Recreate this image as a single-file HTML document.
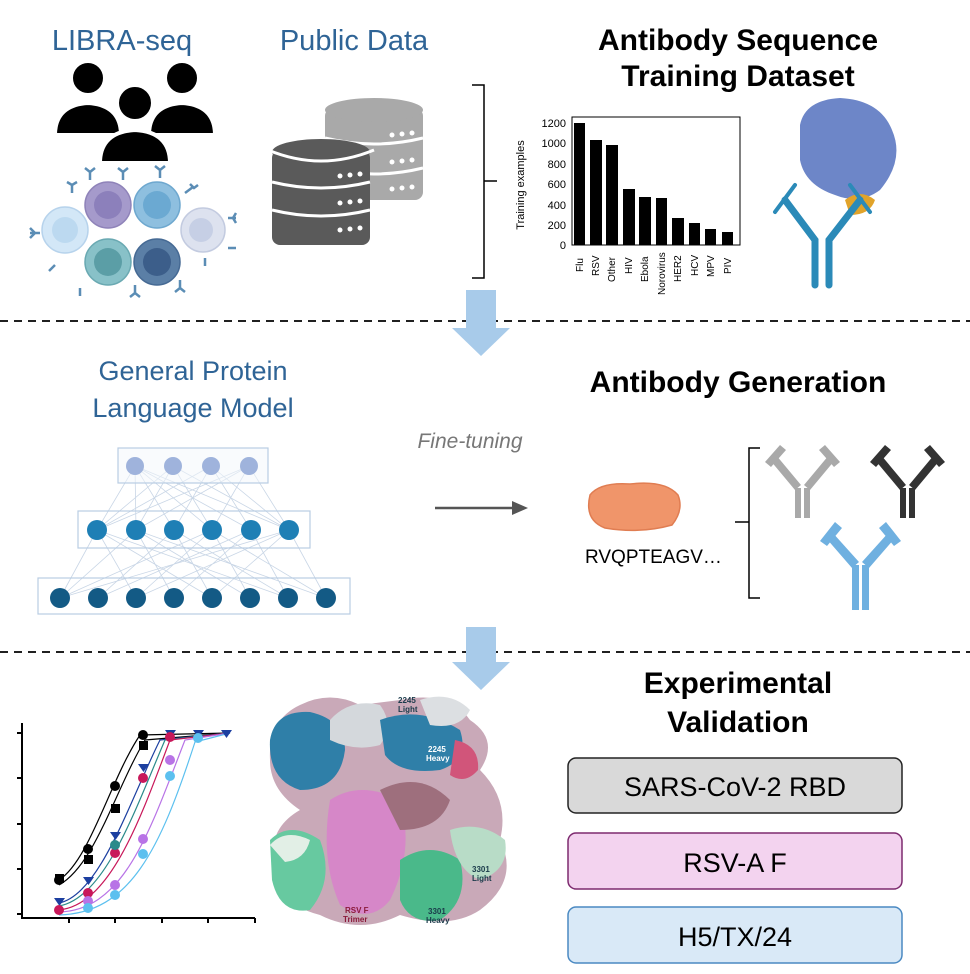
<!DOCTYPE html><html><head><style>
body{margin:0;background:#fff;}
svg{display:block;font-family:"Liberation Sans",Arial,sans-serif;}
</style></head><body>
<svg width="970" height="974" viewBox="0 0 970 974" xmlns="http://www.w3.org/2000/svg">
<rect width="970" height="974" fill="#fff"/>
<!-- Top titles -->
<text x="122" y="50" font-size="29" fill="#2f6496" text-anchor="middle">LIBRA-seq</text>
<text x="354" y="50" font-size="29" fill="#2f6496" text-anchor="middle">Public Data</text>
<text x="738" y="50" font-size="30" font-weight="bold" text-anchor="middle">Antibody Sequence</text>
<text x="738" y="86" font-size="30" font-weight="bold" text-anchor="middle">Training Dataset</text>
<!-- people -->
<g fill="#000" stroke="#fff" stroke-width="4">
<path d="M55 135 Q55 105 88 103 Q121 105 121 135 Z"/><circle cx="88" cy="78" r="17"/>
<path d="M149 135 Q149 105 182 103 Q215 105 215 135 Z"/><circle cx="182" cy="78" r="17"/>
<path d="M100 163 Q100 132 135 130 Q170 132 170 163 Z"/><circle cx="135" cy="103" r="18"/>
</g>
<!-- cells -->
<g stroke-width="1.5">
<circle cx="65" cy="230" r="23" fill="#d3e7f7" stroke="#b7d3ec"/><circle cx="65" cy="230" r="13" fill="#bcd9f0"/>
<circle cx="203" cy="230" r="22" fill="#dde2ef" stroke="#c3cbe0"/><circle cx="201" cy="230" r="12" fill="#c6cfe5"/>
<circle cx="108" cy="205" r="23" fill="#a59acb" stroke="#8f83b9"/><circle cx="108" cy="205" r="14" fill="#8c80bb"/>
<circle cx="157" cy="205" r="23" fill="#8ebfdf" stroke="#6ea8cf"/><circle cx="157" cy="205" r="14" fill="#6ba9d2"/>
<circle cx="108" cy="262" r="23" fill="#88c1c8" stroke="#6aa9b2"/><circle cx="108" cy="262" r="14" fill="#5b9ea6"/>
<circle cx="157" cy="262" r="23" fill="#5b7fa6" stroke="#466a94"/><circle cx="157" cy="262" r="14" fill="#3c5e8a"/>
</g>
<g stroke="#5b8db5" stroke-width="2.5" fill="none">
<path d="M30 233 h10 M30 228 l5 5 l-5 5"/><path d="M72 193 v-8 M67 182 l5 3 l5-3"/>
<path d="M90 180 v-8 M85 168 l5 4 l5-4"/><path d="M123 180 v-8 M118 168 l5 4 l5-4"/>
<path d="M160 178 v-8 M155 166 l5 4 l5-4"/><path d="M185 193 l8-6 M190 184 l4 4 l4-3"/>
<path d="M228 218 h8 M236 213 l-3 5 l3 5"/><path d="M228 248 h8"/><path d="M80 288 v8"/><path d="M135 285 v8 M130 297 l5-4 l5 4"/>
<path d="M180 280 v8 M175 292 l5-4 l5 4"/><path d="M55 265 l-6 6"/><path d="M205 258 v8"/>
</g>
<!-- databases -->
<g fill="#a9a9a9">
<rect x="325" y="108" width="98" height="92" rx="8"/><ellipse cx="374" cy="110" rx="49" ry="12"/>
</g>
<g stroke="#fff" stroke-width="3" fill="none"><path d="M325 138 Q374 150 423 138 M325 168 Q374 180 423 168"/></g>
<g fill="#5a5a5a">
<rect x="272" y="150" width="98" height="95" rx="8"/><ellipse cx="321" cy="152" rx="49" ry="13"/>
</g>
<ellipse cx="321" cy="152" rx="49" ry="13" fill="none" stroke="#fff" stroke-width="2" transform="translate(0,3)" opacity="0"/>
<g stroke="#fff" stroke-width="3" fill="none"><path d="M272 182 Q321 194 370 182 M272 210 Q321 222 370 210"/><path d="M268 150 Q321 172 374 150"/></g>
<g fill="#fff"><circle cx="340" cy="176" r="2.5"/><circle cx="350" cy="175" r="2.5"/><circle cx="360" cy="174" r="2.5"/>
<circle cx="340" cy="203" r="2.5"/><circle cx="350" cy="202" r="2.5"/><circle cx="360" cy="201" r="2.5"/>
<circle cx="340" cy="230" r="2.5"/><circle cx="350" cy="229" r="2.5"/><circle cx="360" cy="228" r="2.5"/>
<circle cx="392" cy="135" r="2.5"/><circle cx="402" cy="134" r="2.5"/><circle cx="412" cy="133" r="2.5"/>
<circle cx="392" cy="162" r="2.5"/><circle cx="402" cy="161" r="2.5"/><circle cx="412" cy="160" r="2.5"/>
<circle cx="392" cy="189" r="2.5"/><circle cx="402" cy="188" r="2.5"/><circle cx="412" cy="187" r="2.5"/></g>
<!-- bracket -->
<path d="M472 85 H484 V278 H472 M484 181 H497" stroke="#000" stroke-width="1.5" fill="none"/>
<!-- bar chart -->
<g font-size="11" fill="#000">
<rect x="572" y="117" width="168" height="128" fill="none" stroke="#000" stroke-width="1"/>
<g text-anchor="end">
<text x="566" y="127">1200</text><text x="566" y="147">1000</text><text x="566" y="168">800</text><text x="566" y="188">600</text><text x="566" y="209">400</text><text x="566" y="229">200</text><text x="566" y="249">0</text></g>
<text transform="translate(524,185) rotate(-90)" text-anchor="middle" font-size="11">Training examples</text>
<rect x="574" y="123" width="11" height="122"/><rect x="590" y="140" width="12" height="105"/><rect x="606" y="145" width="12" height="100"/>
<rect x="623" y="189" width="12" height="56"/><rect x="639" y="197" width="12" height="48"/><rect x="656" y="198" width="11" height="47"/>
<rect x="672" y="218" width="12" height="27"/><rect x="689" y="223" width="11" height="22"/><rect x="705" y="229" width="11" height="16"/><rect x="722" y="232" width="11" height="13"/>
<g font-size="10">
<text transform="translate(583,272) rotate(-90)">Flu</text><text transform="translate(599,276) rotate(-90)">RSV</text>
<text transform="translate(615,282) rotate(-90)">Other</text><text transform="translate(632,274) rotate(-90)">HIV</text>
<text transform="translate(648,282) rotate(-90)">Ebola</text><text transform="translate(665,295) rotate(-90)">Norovirus</text>
<text transform="translate(681,282) rotate(-90)">HER2</text><text transform="translate(698,276) rotate(-90)">HCV</text>
<text transform="translate(714,277) rotate(-90)">MPV</text><text transform="translate(731,274) rotate(-90)">PIV</text></g>
</g>
<!-- antigen + antibody -->
<path d="M800 125 Q805 100 840 98 Q880 100 892 130 Q905 160 880 190 Q860 205 835 195 Q805 185 800 160 Z" fill="#6d86c8"/>
<path d="M845 200 Q860 188 875 200 Q870 215 850 215 Z" fill="#e1a32a"/>
<g stroke="#2b8ab8" stroke-width="7" fill="none" stroke-linecap="round">
<path d="M815 285 V240 L785 200"/><path d="M829 285 V240 L860 200"/></g>
<g stroke="#2b8ab8" stroke-width="4" fill="none" stroke-linecap="round"><path d="M775 212 L795 185"/><path d="M870 212 L850 185"/></g>
<!-- dashed lines -->
<line x1="0" y1="321" x2="970" y2="321" stroke="#000" stroke-width="1.8" stroke-dasharray="8,6"/>
<line x1="0" y1="652" x2="970" y2="652" stroke="#000" stroke-width="1.8" stroke-dasharray="8,6"/>
<!-- arrows down -->
<path d="M466 290 H496 V328 H510 L481 356 L452 328 H466 Z" fill="#a8cbea"/>
<path d="M466 627 H496 V662 H510 L481 690 L452 662 H466 Z" fill="#a8cbea"/>
<!-- section 2 -->
<text x="193" y="380" font-size="27" fill="#2f6496" text-anchor="middle">General Protein</text>
<text x="193" y="417" font-size="27" fill="#2f6496" text-anchor="middle">Language Model</text>
<text x="738" y="392" font-size="30" font-weight="bold" text-anchor="middle">Antibody Generation</text>
<g stroke="#c9d6e6" stroke-width="0.8">
<path d="M135 466 L97 530 M135 466 L136 530 M135 466 L174 530 M135 466 L212 530 M135 466 L251 530 M135 466 L289 530 M173 466 L97 530 M173 466 L136 530 M173 466 L212 530 M173 466 L289 530 M211 466 L97 530 M211 466 L174 530 M211 466 L251 530 M211 466 L289 530 M249 466 L97 530 M249 466 L136 530 M249 466 L212 530 M249 466 L289 530"/>
<path d="M97 530 L60 598 M97 530 L136 598 M97 530 L212 598 M97 530 L288 598 M136 530 L60 598 M136 530 L174 598 M136 530 L250 598 M136 530 L326 598 M174 530 L98 598 M174 530 L212 598 M174 530 L288 598 M212 530 L60 598 M212 530 L136 598 M212 530 L250 598 M212 530 L326 598 M251 530 L98 598 M251 530 L174 598 M251 530 L288 598 M289 530 L60 598 M289 530 L136 598 M289 530 L212 598 M289 530 L326 598"/>
</g>
<g fill="none" stroke="#b9cde3" stroke-width="1.2">
<rect x="118" y="448" width="150" height="35" fill="#f3f7fc" fill-opacity="0.5"/><rect x="78" y="511" width="232" height="37" fill-opacity="0"/><rect x="38" y="578" width="312" height="36"/></g>
<g fill="#9fb3dc"><circle cx="135" cy="466" r="9"/><circle cx="173" cy="466" r="9"/><circle cx="211" cy="466" r="9"/><circle cx="249" cy="466" r="9"/></g>
<g fill="#1e7fb5"><circle cx="97" cy="530" r="10"/><circle cx="136" cy="530" r="10"/><circle cx="174" cy="530" r="10"/><circle cx="212" cy="530" r="10"/><circle cx="251" cy="530" r="10"/><circle cx="289" cy="530" r="10"/></g>
<g fill="#135a85"><circle cx="60" cy="598" r="10"/><circle cx="98" cy="598" r="10"/><circle cx="136" cy="598" r="10"/><circle cx="174" cy="598" r="10"/><circle cx="212" cy="598" r="10"/><circle cx="250" cy="598" r="10"/><circle cx="288" cy="598" r="10"/><circle cx="326" cy="598" r="10"/></g>
<text x="470" y="448" font-size="21" font-style="italic" fill="#777" text-anchor="middle">Fine-tuning</text>
<path d="M435 508 H512" stroke="#555" stroke-width="2.5"/><path d="M512 501 L528 508 L512 515 Z" fill="#555"/>
<path d="M590 495 Q600 482 630 484 Q665 480 678 495 Q684 510 672 525 Q640 534 605 528 Q584 520 590 495 Z" fill="#f0956a" stroke="#e07d52" stroke-width="1.5"/>
<text x="585" y="563" font-size="19" fill="#000">RVQPTEAGV…</text>
<path d="M760 448 H749 V598 H760 M749 522 H735" stroke="#000" stroke-width="1.5" fill="none"/>
<!-- antibodies generated -->
<g fill="#a9a9a9"><rect x="795" y="488" width="6" height="30"/><rect x="804" y="488" width="6" height="30"/><path d="M795 490 L770 460 L776 455 L801 485 Z M810 490 L835 460 L829 455 L804 485 Z"/><path d="M765 462 L780 445 L786 450 L771 467 Z M840 462 L825 445 L819 450 L834 467 Z"/></g>
<g fill="#333"><rect x="900" y="488" width="6" height="30"/><rect x="909" y="488" width="6" height="30"/><path d="M900 490 L875 460 L881 455 L906 485 Z M915 490 L940 460 L934 455 L909 485 Z"/><path d="M870 462 L885 445 L891 450 L876 467 Z M945 462 L930 445 L924 450 L939 467 Z"/></g>
<g fill="#6fb0e0"><rect x="852" y="565" width="7" height="45"/><rect x="862" y="565" width="7" height="45"/><path d="M852 568 L826 538 L832 532 L859 562 Z M869 568 L895 538 L889 532 L862 562 Z"/><path d="M820 541 L835 522 L842 528 L827 546 Z M901 541 L886 522 L879 528 L894 546 Z"/></g>
<!-- section 3 -->
<text x="738" y="693" font-size="30" font-weight="bold" text-anchor="middle">Experimental</text>
<text x="738" y="732" font-size="30" font-weight="bold" text-anchor="middle">Validation</text>
<rect x="568" y="758" width="334" height="55" rx="8" fill="#d9d9d9" stroke="#222" stroke-width="1.5"/>
<text x="735" y="796" font-size="27" text-anchor="middle">SARS-CoV-2 RBD</text>
<rect x="568" y="833" width="334" height="56" rx="8" fill="#f3d3ef" stroke="#7d2a6f" stroke-width="1.5"/>
<text x="735" y="872" font-size="27" text-anchor="middle">RSV-A F</text>
<rect x="568" y="907" width="334" height="56" rx="8" fill="#d9e9f7" stroke="#4a89c2" stroke-width="1.5"/>
<text x="735" y="946" font-size="27" text-anchor="middle">H5/TX/24</text>
<!-- curve chart -->
<g stroke="#000" stroke-width="2" fill="none"><path d="M22 723 V918 H255"/>
<path d="M17 733 H22 M17 778 H22 M17 824 H22 M17 869 H22 M17 914 H22 M69 918 V923 M115 918 V923 M162 918 V923 M208 918 V923 M255 918 V923"/></g>
<g fill="none" stroke-width="1.2">
<path d="M59 880 C90 860 110 780 140 735 L230 733" stroke="#000"/>
<path d="M59 885 C95 865 115 790 145 740 L230 733" stroke="#000"/>
<path d="M59 903 C100 895 130 800 160 740 L230 733" stroke="#1c3fa0"/>
<path d="M59 906 C105 898 135 810 165 740 L230 733" stroke="#2a8a8a"/>
<path d="M59 910 C110 905 140 820 170 740 L230 733" stroke="#c8185a"/>
<path d="M59 912 C125 910 150 830 185 740 L230 733" stroke="#b873e6"/>
<path d="M59 915 C130 913 160 850 195 742 L230 733" stroke="#5cc0ef"/>
</g>
<g fill="#000"><circle cx="59" cy="880" r="5"/><circle cx="88" cy="849" r="5"/><circle cx="115" cy="786" r="5"/><circle cx="143" cy="735" r="5"/>
<rect x="55" y="874" width="9" height="9"/><rect x="84" y="855" width="9" height="9"/><rect x="111" y="804" width="9" height="9"/><rect x="139" y="741" width="9" height="9"/></g>
<g fill="#1c3fa0"><path d="M54 898 h11 l-5.5 8 z M83 877 h11 l-5.5 8 z M110 832 h11 l-5.5 8 z M138 764 h11 l-5.5 8 z M165 730 h11 l-5.5 8 z M193 730 h11 l-5.5 8 z M221 730 h11 l-5.5 8 z"/></g>
<g fill="#c8185a"><circle cx="59" cy="910" r="5"/><circle cx="88" cy="893" r="5"/><circle cx="115" cy="853" r="5"/><circle cx="143" cy="778" r="5"/><circle cx="170" cy="737" r="5"/></g>
<g fill="#b873e6"><circle cx="88" cy="901" r="5"/><circle cx="115" cy="885" r="5"/><circle cx="143" cy="839" r="5"/><circle cx="170" cy="760" r="5"/></g>
<g fill="#5cc0ef"><circle cx="88" cy="908" r="5"/><circle cx="115" cy="895" r="5"/><circle cx="143" cy="854" r="5"/><circle cx="170" cy="776" r="5"/><circle cx="198" cy="738" r="5"/></g>
<circle cx="115" cy="845" r="5" fill="#2a8a8a"/>
<!-- protein structure -->
<g>
<path d="M300 705 Q330 690 360 705 L400 700 Q450 690 470 720 Q500 740 480 770 Q510 800 500 840 Q520 880 480 910 Q450 930 400 915 Q360 935 320 915 Q280 905 275 870 Q265 830 300 810 Q270 790 270 760 Q268 720 300 705 Z" fill="#c9a9b8"/>
<path d="M270 740 Q275 710 310 712 Q345 720 345 750 Q340 790 300 790 Q268 780 270 740 Z" fill="#2f7fa8"/>
<path d="M330 720 Q350 698 380 705 Q395 725 380 745 Q355 752 330 740 Z" fill="#d4d8dc"/>
<path d="M380 720 Q420 705 460 730 Q470 760 440 770 Q400 775 385 755 Z" fill="#2f7fa8"/>
<path d="M455 740 Q480 745 478 770 Q465 785 450 775 Z" fill="#d1557a"/>
<path d="M420 700 Q450 690 470 710 Q460 730 430 725 Z" fill="#dcdfe2"/>
<path d="M330 800 Q360 780 400 800 Q415 850 390 900 Q370 925 340 905 Q320 860 330 800 Z" fill="#d687c8"/>
<path d="M270 840 Q290 820 320 840 Q335 880 310 910 Q280 915 272 880 Z" fill="#67c9a0"/>
<path d="M270 845 Q285 828 310 840 Q305 860 285 862 Z" fill="#e2efe6"/>
<path d="M400 860 Q430 840 460 860 Q470 900 440 920 Q410 925 400 900 Z" fill="#4ab98a"/>
<path d="M450 830 Q480 820 505 840 Q510 870 480 880 Q455 870 450 830 Z" fill="#b8dcc7"/>
<path d="M380 790 Q420 770 450 800 Q440 830 400 830 Z" fill="#9e6f7d"/>
</g>
<g font-size="8" font-weight="bold" fill="#1a3a4a">
<text x="398" y="703">2245</text><text x="398" y="712">Light</text>
<text x="428" y="752" fill="#fff">2245</text><text x="426" y="761" fill="#fff">Heavy</text>
<text x="472" y="872">3301</text><text x="472" y="881">Light</text>
<text x="428" y="914">3301</text><text x="426" y="923">Heavy</text>
<text x="345" y="913" fill="#8a1a3a">RSV F</text><text x="343" y="922" fill="#8a1a3a">Trimer</text></g>
</svg>
</body></html>
